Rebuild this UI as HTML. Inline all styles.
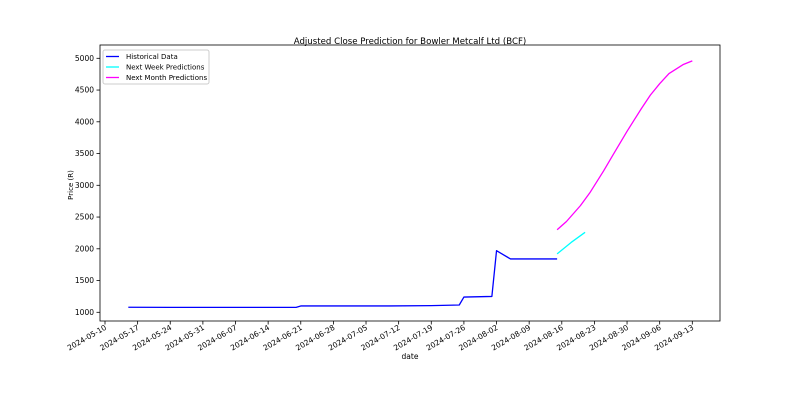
<!DOCTYPE html>
<html><head><meta charset="utf-8"><style>
body{margin:0;background:#fff;font-family:"Liberation Sans","DejaVu Sans",sans-serif}
</style></head><body>
<svg id="c" width="800" height="400" xmlns="http://www.w3.org/2000/svg" font-family="DejaVu Sans, Liberation Sans, sans-serif">
<rect width="800" height="400" fill="#fff"/>
<text x="410" y="44" text-anchor="middle" font-size="8.6">Adjusted Close Prediction for Bowler Metcalf Ltd (BCF)</text>
<text x="73" y="185" text-anchor="middle" font-size="7" transform="rotate(-90 73 185)">Price (R)</text>
<text x="410" y="359" text-anchor="middle" font-size="7.5">date</text>
<g id="ax"></g><g id="marks"></g>
<rect x="100" y="45" width="620" height="276" fill="none" stroke="#000" stroke-width="0.8"/>
<g>
<rect x="103" y="50" width="106" height="34" fill="#fff" stroke="#ccc" rx="2"/>
<g><line x1="106" y1="56.5" x2="119" y2="56.5" stroke="#0000ff" stroke-width="1.3"/><text x="126" y="59" font-size="7">Historical Data</text></g>
<g><line x1="106" y1="67" x2="119" y2="67" stroke="#00ffff" stroke-width="1.3"/><text x="126" y="69.5" font-size="7">Next Week Predictions</text></g>
<g><line x1="106" y1="77.5" x2="119" y2="77.5" stroke="#ff00ff" stroke-width="1.3"/><text x="126" y="80" font-size="7">Next Month Predictions</text></g>
</g>
</svg>
<script>
const xTickLabels=["2024-05-10","2024-05-17","2024-05-24","2024-05-31","2024-06-07","2024-06-14","2024-06-21","2024-06-28","2024-07-05","2024-07-12","2024-07-19","2024-07-26","2024-08-02","2024-08-09","2024-08-16","2024-08-23","2024-08-30","2024-09-06","2024-09-13"];
const yTicks=[1000,1500,2000,2500,3000,3500,4000,4500,5000];
const histDates=["2024-05-15","2024-05-24","2024-06-20","2024-06-21","2024-07-10","2024-07-19","2024-07-25","2024-07-26","2024-08-01","2024-08-02","2024-08-05","2024-08-15"];
const histValues=[1080,1078,1078,1100,1100,1105,1115,1240,1250,1970,1840,1840];
const weekDates=["2024-08-15","2024-08-18","2024-08-21"];
const weekValues=[1920,2100,2260];
const monthDates=["2024-08-15","2024-08-17","2024-08-20","2024-08-22","2024-08-25","2024-08-27","2024-08-30","2024-09-02","2024-09-04","2024-09-06","2024-09-08","2024-09-11","2024-09-13"];
const monthValues=[2300,2430,2680,2880,3230,3480,3850,4200,4420,4600,4760,4900,4960];
const NS="http://www.w3.org/2000/svg";
const d0=Date.parse("2024-05-10");
function xs(d){return 105+(Date.parse(d)-d0)/86400000*(587.3/126);}
function ys(v){return 312.3-(v-1000)*0.0635;}
const ax=document.getElementById('ax'),mk=document.getElementById('marks');
function el(t,a,p){const e=document.createElementNS(NS,t);for(const k in a)e.setAttribute(k,a[k]);p.appendChild(e);return e;}
xTickLabels.forEach(l=>{const x=xs(l);
const t=el('line',{x1:x,x2:x,y1:321,y2:324.5,stroke:'#000','stroke-width':0.8},ax);


const tx=el('text',{x:x+2,y:329,'font-size':7.5,'text-anchor':'end',transform:`rotate(-30 ${x+2} 329)`},ax);tx.textContent=l;

});
yTicks.forEach(v=>{const y=ys(v);
const t=el('line',{x1:96.5,x2:100,y1:y,y2:y,stroke:'#000','stroke-width':0.8},ax);


const tx=el('text',{x:94,y:y+2.5,'font-size':7.5,'text-anchor':'end'},ax);tx.textContent=v;

});
function line(ds,vs,c,n){const p=el('polyline',{points:ds.map((d,i)=>xs(d)+','+ys(vs[i])).join(' '),fill:'none',stroke:c,'stroke-width':1.3,'stroke-linejoin':'round'},mk);

}
line(histDates,histValues,'#0000ff','historical-line');
line(weekDates,weekValues,'#00ffff','next-week-line');
line(monthDates,monthValues,'#ff00ff','next-month-line');
</script>
</body></html>
